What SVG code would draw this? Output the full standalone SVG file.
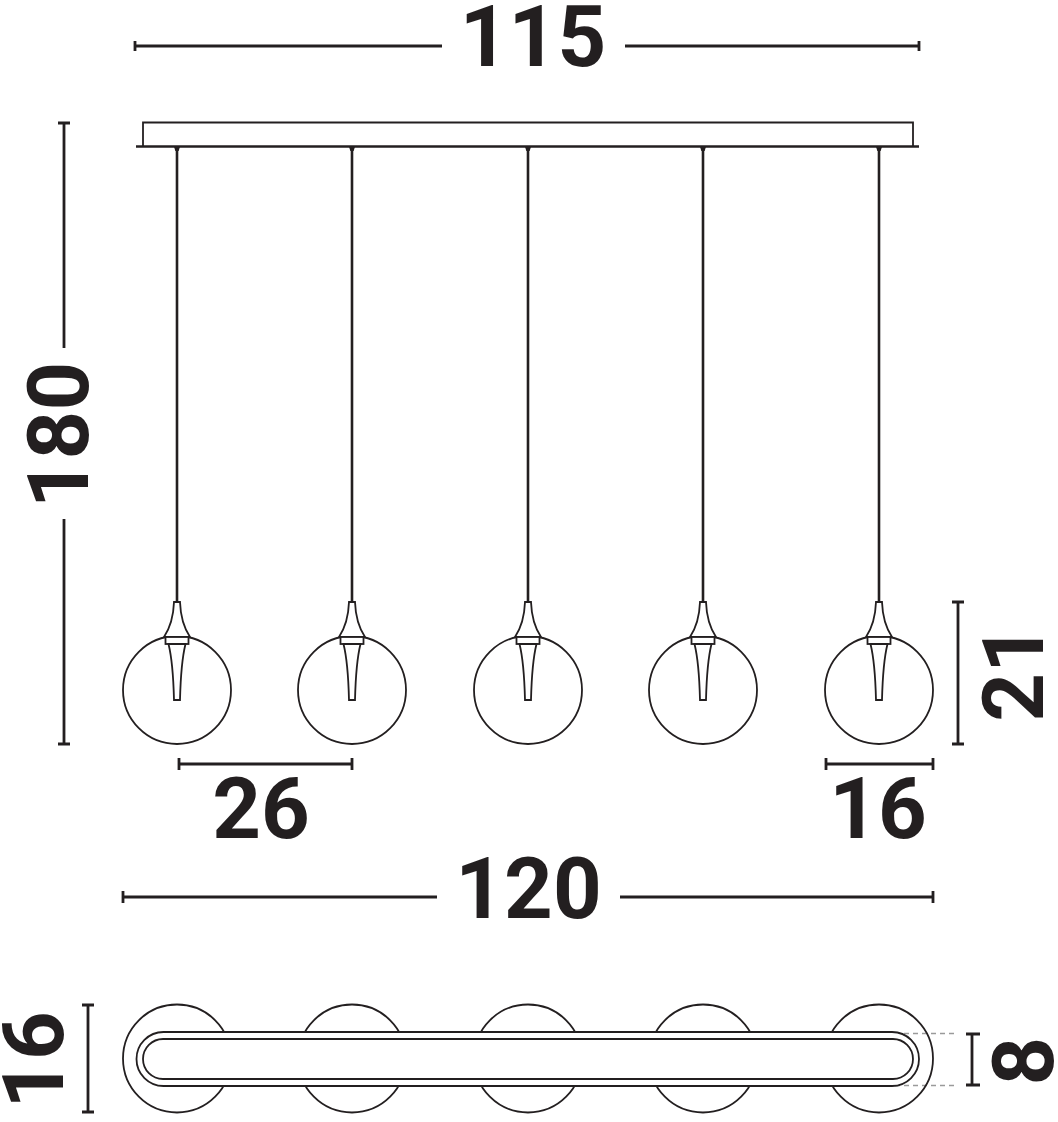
<svg xmlns="http://www.w3.org/2000/svg" width="1058" height="1122" viewBox="0 0 1058 1122">
<style>
.l{fill:none;stroke:#231f20;stroke-width:1.8}
.w{fill:#fff;stroke:#231f20;stroke-width:1.8}
.c{fill:none;stroke:#231f20;stroke-width:2.6}
.d{fill:none;stroke:#231f20;stroke-width:2.8}
.g{fill:none;stroke:#9a9a9a;stroke-width:1.4;stroke-dasharray:5 4}
text{font-family:Roboto,"Liberation Sans",Arial,sans-serif;font-weight:700;font-size:85px;fill:#231f20;text-anchor:middle}
</style>
<defs>
<g id="pendant">
<path class="c" d="M0 146V602"/>
<path class="l" d="M-2 147h4l-1 3h-2z"/>
<circle class="l" cx="0" cy="690" r="54"/>
<path class="w" d="M-3 602H3C3.500 616 7 628 13 637H-13C-7 628-3.500 616-3 602Z"/>
<rect class="w" x="-11.500" y="637" width="23" height="7"/>
<path class="w" d="M-8.500 644H8.500C4.500 660 3.500 680 3 700H-3C-3.500 680-4.500 660-8.500 644Z"/>
</g>
<circle id="top" class="l" cx="0" cy="1058.500" r="54"/>
</defs>
<g id="dimensions" class="connectors">
<path class="d" d="M135 46H442M625 46H919M135 41V51M919 41V51"/>
<path class="d" d="M64 123V348M64 519V744M58 123H70M58 744H70"/>
<path class="d" d="M958 602V744M952 602H964M952 744H964"/>
<path class="d" d="M179 764H352M179 758V770M352 758V770"/>
<path class="d" d="M826 764H933M826 758V770M933 758V770"/>
<path class="d" d="M123 897H437M620 897H933M123 891V903M933 891V903"/>
<path class="d" d="M88 1005V1112M82 1005H94M82 1112H94"/>
<path class="d" d="M972 1034V1085M966 1034H980M966 1085H980"/>
<path class="g" d="M895 1033.500H956M895 1085.500H956"/>
</g>
<g id="canopy">
<path class="l" d="M143 146V122.500H913V146"/>
<path class="c" d="M136 146.500H919"/>
</g>
<g id="pendant-1"><use href="#pendant" x="177"/></g>
<g id="pendant-2"><use href="#pendant" x="352"/></g>
<g id="pendant-3"><use href="#pendant" x="528"/></g>
<g id="pendant-4"><use href="#pendant" x="703"/></g>
<g id="pendant-5"><use href="#pendant" x="879"/></g>
<g id="top-view">
<use href="#top" x="177"/><use href="#top" x="352"/><use href="#top" x="528"/><use href="#top" x="703"/><use href="#top" x="879"/>
<rect class="w" x="136.500" y="1032" width="782.500" height="54" rx="27"/>
<rect class="w" x="143" y="1039" width="770" height="40" rx="20"/>
</g>
<g id="labels">
<text x="533" y="66">115</text>
<text transform="translate(88 435) rotate(-90)">180</text>
<text transform="translate(1043 673) rotate(-90)">21</text>
<text x="261" y="838">26</text>
<text x="878" y="838">16</text>
<text x="528.500" y="918">120</text>
<text transform="translate(63 1060) rotate(-90)">16</text>
<text transform="translate(1053 1061) rotate(-90)">8</text>
</g>
</svg>
